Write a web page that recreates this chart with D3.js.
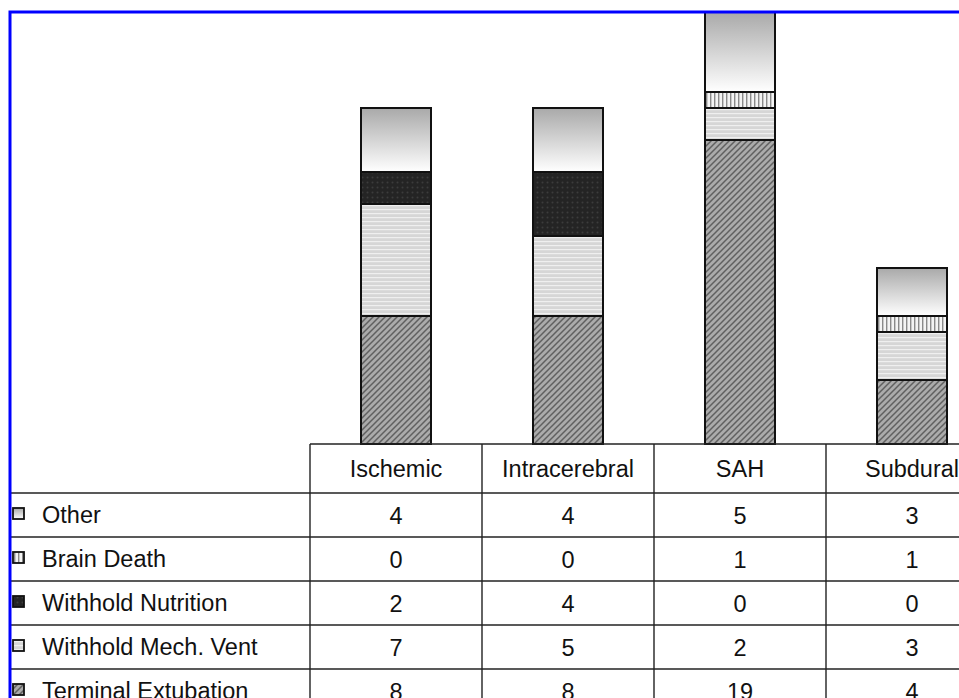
<!DOCTYPE html>
<html>
<head>
<meta charset="utf-8">
<script src="https://cdn.jsdelivr.net/npm/d3@7"></script>
<style>
  html, body { margin: 0; padding: 0; background: #fff; }
  svg { display: block; }
  text { font-family: "Liberation Sans", Arial, sans-serif; fill: #111; }
</style>
</head>
<body>
<svg id="chart" width="959" height="698"></svg>
<script>
// Causes of death by stroke type (counts)
const categories = ["Ischemic", "Intracerebral", "SAH", "Subdural"];
const seriesNames = ["Terminal Extubation", "Withhold Mech. Vent", "Withhold Nutrition", "Brain Death", "Other"];
const terminalExtubation = [8, 8, 19, 4];
const withholdMechVent   = [7, 5, 2, 3];
const withholdNutrition  = [2, 4, 0, 0];
const brainDeath         = [0, 0, 1, 1];
const other              = [4, 4, 5, 3];
// Table rows are listed top to bottom
const tableOrder = ["Other", "Brain Death", "Withhold Nutrition", "Withhold Mech. Vent", "Terminal Extubation"];

const seriesValues = {
  "Terminal Extubation": terminalExtubation,
  "Withhold Mech. Vent": withholdMechVent,
  "Withhold Nutrition": withholdNutrition,
  "Brain Death": brainDeath,
  "Other": other
};
const fills = {
  "Terminal Extubation": "url(#pDiag)",
  "Withhold Mech. Vent": "url(#pHoriz)",
  "Withhold Nutrition": "url(#pDots)",
  "Brain Death": "url(#pVert)",
  "Other": "url(#gOther)"
};

const svg = d3.select("#chart");
const defs = svg.append("defs");

// Diagonal hatch
const pd = defs.append("pattern").attr("id", "pDiag").attr("patternUnits", "userSpaceOnUse")
  .attr("width", 6).attr("height", 6);
pd.append("rect").attr("width", 6).attr("height", 6).attr("fill", "#ababab");
pd.append("path").attr("d", "M-1,1 l2,-2 M0,6 l6,-6 M5,7 l2,-2").attr("stroke", "#606060").attr("stroke-width", 1.5);

// Horizontal light stripes
const ph = defs.append("pattern").attr("id", "pHoriz").attr("patternUnits", "userSpaceOnUse")
  .attr("width", 8).attr("height", 4);
ph.append("rect").attr("width", 8).attr("height", 4).attr("fill", "#d6d6d6");
ph.append("rect").attr("y", 1).attr("width", 8).attr("height", 1.2).attr("fill", "#efefef");

// Dark dotted
const pt = defs.append("pattern").attr("id", "pDots").attr("patternUnits", "userSpaceOnUse")
  .attr("width", 5).attr("height", 5);
pt.append("rect").attr("width", 5).attr("height", 5).attr("fill", "#242424");
pt.append("circle").attr("cx", 2.5).attr("cy", 2.5).attr("r", 1).attr("fill", "#3c3c3c");

// Vertical stripes
const pv = defs.append("pattern").attr("id", "pVert").attr("patternUnits", "userSpaceOnUse")
  .attr("width", 4).attr("height", 4);
pv.append("rect").attr("width", 4).attr("height", 4).attr("fill", "#f4f4f4");
pv.append("rect").attr("x", 2).attr("width", 1.4).attr("height", 4).attr("fill", "#8a8a8a");

// Grey-to-white gradient
const gr = defs.append("linearGradient").attr("id", "gOther")
  .attr("x1", 0).attr("y1", 0).attr("x2", 0).attr("y2", 1);
gr.append("stop").attr("offset", "0%").attr("stop-color", "#a9a9a9");
gr.append("stop").attr("offset", "100%").attr("stop-color", "#ffffff");

// Scales
const x = d3.scaleBand().domain(categories).range([310, 998]).paddingInner(0).paddingOuter(0);
const y = d3.scaleLinear().domain([0, 27]).range([444, 12]);
const barW = 70;

// Stacked bars
const stackData = categories.map((c, i) => {
  const row = { category: c };
  seriesNames.forEach(s => row[s] = seriesValues[s][i]);
  return row;
});
const stacked = d3.stack().keys(seriesNames)(stackData);

const gBars = svg.append("g");
stacked.forEach(layer => {
  gBars.selectAll(null)
    .data(layer.filter(d => d[1] - d[0] > 0))
    .join("rect")
    .attr("x", d => x(d.data.category) + x.bandwidth() / 2 - barW / 2)
    .attr("y", d => y(d[1]))
    .attr("width", barW)
    .attr("height", d => y(d[0]) - y(d[1]))
    .attr("fill", fills[layer.key])
    .attr("stroke", "#111")
    .attr("stroke-width", 2);
});

// Data table
const tableLeft = 9;
const headerTop = 444, headerBottom = 493, rowH = 44;
const fontSize = 23.5;
const gT = svg.append("g").attr("stroke", "#222").attr("stroke-width", 1.4);

// header box
gT.append("line").attr("x1", x.range()[0]).attr("x2", 959).attr("y1", headerTop).attr("y2", headerTop);
// row separators
d3.range(tableOrder.length).forEach(i => {
  const yy = headerBottom + i * rowH;
  gT.append("line").attr("x1", tableLeft).attr("x2", 959).attr("y1", yy).attr("y2", yy);
});
// column separators
categories.forEach(c => {
  gT.append("line").attr("x1", x(c)).attr("x2", x(c))
    .attr("y1", headerTop).attr("y2", 698);
});

// header labels
svg.append("g").selectAll("text").data(categories).join("text")
  .attr("x", c => x(c) + x.bandwidth() / 2)
  .attr("y", (headerTop + headerBottom) / 2 + 8.5)
  .attr("text-anchor", "middle")
  .attr("font-size", fontSize)
  .text(c => c);

// rows
tableOrder.forEach((s, r) => {
  const cy = headerBottom + r * rowH + rowH / 2;
  const g = svg.append("g");
  g.append("rect").attr("x", 13).attr("y", cy - 7).attr("width", 11).attr("height", 11)
    .attr("fill", fills[s]).attr("stroke", "#111").attr("stroke-width", 1.8);
  g.append("text").attr("x", 42).attr("y", cy + 7.5).attr("font-size", fontSize).text(s);
  g.selectAll("text.v").data(seriesValues[s]).join("text").attr("class", "v")
    .attr("x", (v, i) => x(categories[i]) + x.bandwidth() / 2)
    .attr("y", cy + 9)
    .attr("text-anchor", "middle")
    .attr("font-size", fontSize)
    .text(v => v);
});

// blue frame
svg.append("path").attr("d", "M10,698 L10,12 L959,12")
  .attr("fill", "none").attr("stroke", "#0000ff").attr("stroke-width", 3);
</script>
</body>
</html>
